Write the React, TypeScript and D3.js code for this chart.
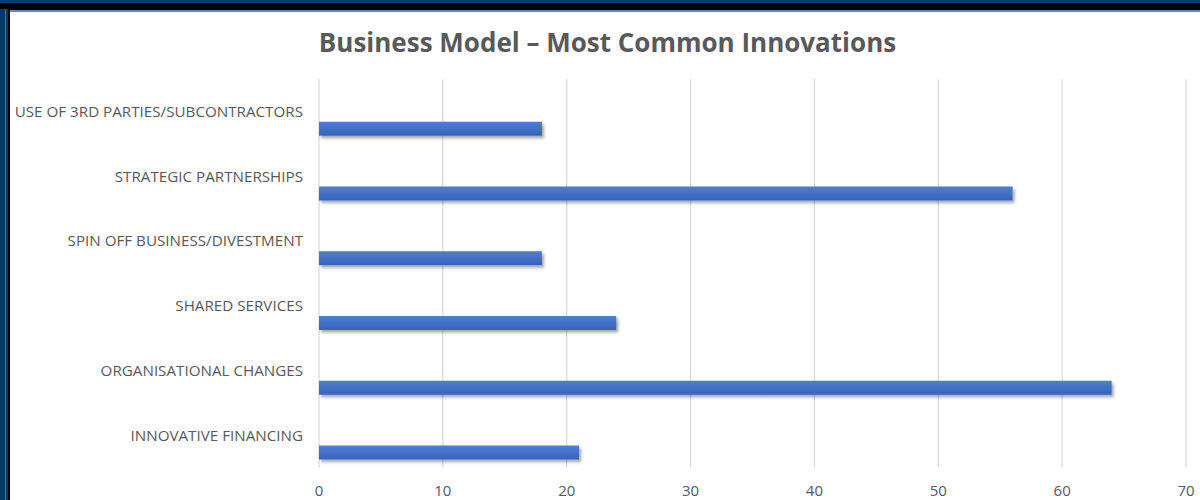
import React from "react";
import * as d3 from "d3";

const categories = [
  "USE OF 3RD PARTIES/SUBCONTRACTORS",
  "STRATEGIC PARTNERSHIPS",
  "SPIN OFF BUSINESS/DIVESTMENT",
  "SHARED SERVICES",
  "ORGANISATIONAL CHANGES",
  "INNOVATIVE FINANCING",
];
const values = [18, 56, 18, 24, 64, 21];
const xTicks = [0, 10, 20, 30, 40, 50, 60, 70];
const title = "Business Model \u2013 Most Common Innovations";

const W = 1200;
const H = 500;
const plot = { left: 319, right: 1186, top: 79, bottom: 467.5 };
const FONT = "'Open Sans', 'Liberation Sans', sans-serif";

export default function App() {
  const x = d3.scaleLinear().domain([0, 70]).range([plot.left, plot.right]);
  const y = d3
    .scaleBand<string>()
    .domain(categories)
    .range([plot.top, plot.bottom])
    .padding(0);
  const step = y.step();
  const barOff = step * 0.66;
  const barH = step * 0.216;

  return (
    <div style={{ position: "fixed", left: 0, top: 0, width: W, height: H }}>
      <svg width={W} height={H} style={{ display: "block" }}>
        <defs>
          <linearGradient id="barGrad" x1="0" y1="0" x2="0" y2="1">
            <stop offset="0" stopColor="#4d7fd3" />
            <stop offset="0.5" stopColor="#4470c6" />
            <stop offset="1" stopColor="#3663b9" />
          </linearGradient>
          <filter id="shadow" x="-5%" y="-50%" width="110%" height="220%">
            <feDropShadow dx="2" dy="2.5" stdDeviation="1.6" floodColor="#000" floodOpacity="0.35" />
          </filter>
        </defs>
        {/* frame */}
        <rect x={0} y={0} width={W} height={H} fill="#043a6a" />
        <rect x={0} y={3} width={W} height={6} fill="#000" />
        <rect x={8} y={9} width={W - 8} height={H - 9} fill="#000" />
        <rect x={5} y={10} width={1} height={H - 10} fill="#3f6fc0" />
        <rect x={10} y={10} width={W - 10} height={2} fill="#5b86d0" />
        <rect x={10} y={12} width={W - 10} height={H - 12} fill="#fff" />

        {/* title */}
        <text
          x={607.5}
          y={52}
          textAnchor="middle"
          fontFamily={FONT}
          fontWeight="bold"
          fontSize={26}
          fill="#595959"
        >
          {title}
        </text>

        {/* gridlines */}
        {xTicks.map((t) => (
          <line
            key={t}
            x1={x(t)}
            x2={x(t)}
            y1={plot.top}
            y2={plot.bottom}
            stroke="#d9d9d9"
            strokeWidth={1.2}
          />
        ))}

        {/* tick labels */}
        {xTicks.map((t) => (
          <text
            key={"t" + t}
            x={x(t)}
            y={496}
            textAnchor="middle"
            fontFamily={FONT}
            fontSize={15}
            fill="#595959"
          >
            {t}
          </text>
        ))}

        {/* category labels */}
        {categories.map((c) => (
          <text
            key={"c" + c}
            x={303}
            y={(y(c) as number) + step / 2 + 5.5}
            textAnchor="end"
            fontFamily={FONT}
            fontSize={15.2}
            fill="#595959"
          >
            {c}
          </text>
        ))}

        {/* bars */}
        {categories.map((c, i) => (
          <rect
            key={"b" + c}
            x={x(0)}
            y={(y(c) as number) + barOff}
            width={x(values[i]) - x(0)}
            height={barH}
            fill="url(#barGrad)"
            filter="url(#shadow)"
          />
        ))}
      </svg>
    </div>
  );
}
